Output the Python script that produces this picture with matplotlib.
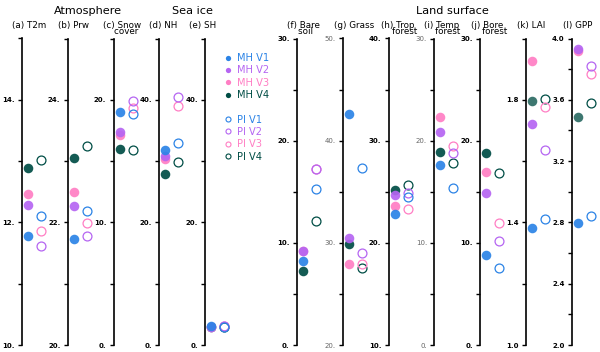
import matplotlib
matplotlib.use('Agg')
import matplotlib.pyplot as plt
from matplotlib.lines import Line2D
from matplotlib.ticker import FixedLocator, MultipleLocator, FormatStrFormatter

# ---------------- data ----------------
versions = ['V1', 'V2', 'V3', 'V4']
colors = ['#2b83e6', '#b565f2', '#ff7ec4', '#004d45']

titles = ['(a) T2m', '(b) Prw', '(c) Snow\n    cover', '(d) NH', '(e) SH',
          '(f) Bare\n    soil', '(g) Grass', '(h) Trop\n    forest',
          '(i) Temp\n    forest', '(j) Bore\n    forest', '(k) LAI', '(l) GPP']

groups = ['Atmosphere', 'Sea ice', 'Land surface']

mh_t2m = [11.78, 12.29, 12.46, 12.89]
pi_t2m = [12.11, 11.62, 11.86, 13.01]
mh_prw = [21.73, 22.26, 22.49, 23.05]
pi_prw = [22.19, 21.77, 21.99, 23.24]
mh_snow = [19.0, 17.37, 17.16, 16.02]
pi_snow = [18.87, 19.87, 19.37, 15.88]
mh_nh = [31.76, 30.9, 30.4, 27.96]
pi_nh = [32.9, 40.4, 39.0, 29.8]
mh_sh = [3.1, 2.9, 2.95, 2.9]
pi_sh = [3.0, 3.1, 3.05, 3.0]
mh_bare = [8.24, 9.22, 9.2, 7.23]
pi_bare = [15.25, 17.27, 17.27, 12.12]
mh_grass = [42.58, 30.49, 27.92, 29.87]
pi_grass = [37.33, 28.96, 27.89, 27.53]
mh_trop = [22.81, 24.66, 23.62, 25.15]
pi_trop = [24.5, 24.83, 23.36, 25.64]
mh_temp = [17.6, 20.89, 22.3, 18.9]
pi_temp = [15.32, 18.8, 19.52, 17.86]
mh_bore = [8.77, 14.83, 16.9, 18.8]
pi_bore = [7.56, 10.2, 11.93, 16.81]
mh_lai = [1.383, 1.72, 1.926, 1.795]
pi_lai = [1.41, 1.635, 1.775, 1.802]
mh_gpp = [2.797, 3.933, 3.92, 3.487]
pi_gpp = [2.84, 3.822, 3.767, 3.58]

mh_all = [mh_t2m, mh_prw, mh_snow, mh_nh, mh_sh, mh_bare, mh_grass,
          mh_trop, mh_temp, mh_bore, mh_lai, mh_gpp]
pi_all = [pi_t2m, pi_prw, pi_snow, pi_nh, pi_sh, pi_bare, pi_grass,
          pi_trop, pi_temp, pi_bore, pi_lai, pi_gpp]

ylims = [(10, 15), (20, 25), (0, 25), (0, 50), (0, 50), (0, 30), (20, 50),
         (10, 40), (0, 30), (0, 30), (1.0, 2.0), (2.0, 4.0)]
major_ticks = [[10, 12, 14], [20, 22, 24], [0, 10, 20], [0, 20, 40], [0, 20, 40],
               [0, 10, 20, 30], [20, 30, 40, 50], [10, 20, 30, 40],
               [0, 10, 20, 30], [0, 10, 20, 30], [1.0, 1.4, 1.8],
               [2.0, 2.4, 2.8, 3.2, 3.6, 4.0]]
minor_step = [1, 1, 5, 10, 10, 5, 5, 5, 5, 5, 0.2, 0.2]
tick_fmt = ['%d.'] * 10 + ['%.1f', '%.1f']

# ---------------- styling / layout ----------------
W, H = 600, 352
fig = plt.figure(figsize=(W / 100, H / 100), dpi=100)

slot_w = 45.83
slots = [0, 1, 2, 3, 4, 6, 7, 8, 9, 10, 11, 12]
ax_top, ax_bot = 38.5, 345.0
ax_w = 32.0
title_dx = [-9.5, -9.5, -11, -10, -16, -10, -9, -8, -10, -9, -9, -9]
light_labels = [6, 8]  # panels with grey, regular tick labels
v4_alt = {10: '#2c6b64', 11: '#2c6b64'}

for i in range(12):
    sx = 22 + slots[i] * slot_w
    ax = fig.add_axes([sx / W, 1 - ax_bot / H, ax_w / W, (ax_bot - ax_top) / H])
    ax.set_xlim(-0.46, 2.0)
    ax.set_ylim(*ylims[i])
    for s in ['top', 'right', 'bottom']:
        ax.spines[s].set_visible(False)
    ax.spines['left'].set_linewidth(1.2)
    ax.set_xticks([])
    ax.yaxis.set_major_locator(FixedLocator(major_ticks[i]))
    ax.yaxis.set_minor_locator(MultipleLocator(minor_step[i]))
    ax.yaxis.set_major_formatter(FormatStrFormatter(tick_fmt[i]))
    ax.tick_params(axis='y', which='both', length=3, width=1.0, pad=2.3,
                   labelsize=5.0, direction='out')
    for lab in ax.get_yticklabels():
        if i in light_labels:
            lab.set_color('#666666')
            lab.set_fontweight('normal')
        else:
            lab.set_fontweight('bold')
    ax.patch.set_visible(False)

    for k in range(4):
        c = colors[k]
        if k == 3 and i in v4_alt:
            c = v4_alt[i]
        ax.plot([0], [mh_all[i][k]], 'o', ms=6.9, color=c, mec='none', alpha=0.92,
                zorder=10 - k, clip_on=False)
        ax.plot([1], [pi_all[i][k]], 'o', ms=6.4, mfc='none', mec=colors[k], mew=0.9,
                zorder=10 - k, clip_on=False)

    fig.text((sx + title_dx[i]) / W, 1 - 21.0 / H, titles[i], ha='left', va='top',
             fontsize=6.3, linespacing=0.62, multialignment='left')

# group headers
group_x = [88, 193, 452]
for g, gx in zip(groups, group_x):
    fig.text(gx / W, 1 - 14.2 / H, g, ha='center', va='baseline', fontsize=8.1)

# legend
handles = []
labels = []
for k in range(4):
    handles.append(Line2D([], [], ls='none', marker='o', ms=3.8, color=colors[k], mec='none'))
    labels.append('MH ' + versions[k])
handles.append(Line2D([], [], ls='none'))
labels.append(' ')
for k in range(4):
    handles.append(Line2D([], [], ls='none', marker='o', ms=3.6, mfc='none',
                          mec=colors[k], mew=0.8))
    labels.append('PI ' + versions[k])
leg = fig.legend(handles, labels, loc='upper left', bbox_to_anchor=(225.5 / W, 1 - 53 / H),
                 frameon=False, borderpad=0, handlelength=0.6, handletextpad=0.55,
                 labelspacing=0.235, fontsize=7.1, borderaxespad=0)
for j, t in enumerate(leg.get_texts()):
    if j < 4:
        t.set_color(colors[j])
    elif j > 4:
        t.set_color(colors[j - 5])

fig.savefig('out.png', dpi=100)
